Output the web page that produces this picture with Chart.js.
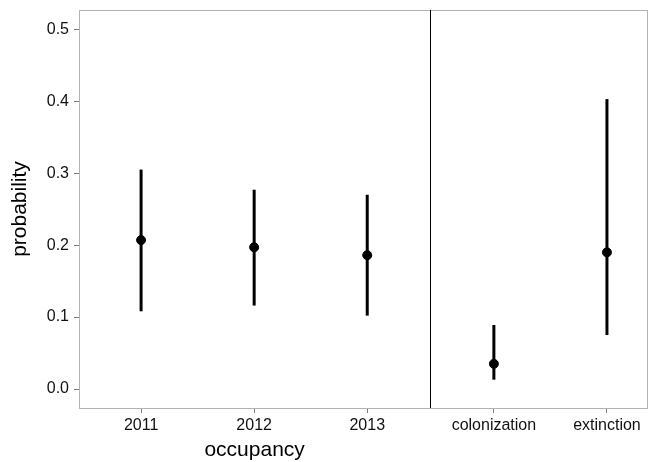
<!DOCTYPE html>
<html>
<head>
<meta charset="utf-8">
<script src="https://cdn.jsdelivr.net/npm/chart.js@4.4.1/dist/chart.umd.min.js"></script>
<style>
  body { margin: 0; background: #fff; }
  canvas { display: block; }
</style>
</head>
<body>
<canvas id="chart" width="649" height="462"></canvas>
<script>
// estimates and 95% intervals
const categories = ['2011', '2012', '2013', 'colonization', 'extinction'];
const estimates = [0.207, 0.197, 0.186, 0.035, 0.190];
const lowerCI = [0.108, 0.116, 0.102, 0.013, 0.075];
const upperCI = [0.305, 0.277, 0.270, 0.089, 0.403];
const yTicks = [0, 0.1, 0.2, 0.3, 0.4, 0.5];
const occupancyCount = 3; // first three categories belong to the occupancy panel

// layout: the second panel is shifted a little to the right
const panelGap = 0.12;
const xPos = categories.map((c, i) => i + (i >= occupancyCount ? panelGap : 0));
const dividerX = 2.557;

const errorBars = categories.map((c, i) => ({
  type: 'line',
  data: [{ x: xPos[i], y: lowerCI[i] }, { x: xPos[i], y: upperCI[i] }],
  borderColor: '#000',
  borderWidth: 3,
  borderCapStyle: 'butt',
  pointRadius: 0,
  pointHoverRadius: 0
}));

const panelPlugin = {
  id: 'panel',
  beforeDatasetsDraw(chart) {
    const { ctx, chartArea } = chart;
    const x = chart.scales.x.getPixelForValue(dividerX);
    ctx.save();
    ctx.strokeStyle = '#b3b3b3';
    ctx.lineWidth = 1;
    ctx.strokeRect(chartArea.left + 0.5, chartArea.top + 0.5,
      chartArea.right - chartArea.left - 1, chartArea.bottom - chartArea.top);
    ctx.strokeStyle = '#000';
    ctx.beginPath();
    ctx.moveTo(Math.round(x) + 0.5, chartArea.top);
    ctx.lineTo(Math.round(x) + 0.5, chartArea.bottom);
    ctx.stroke();
    ctx.restore();
  },
  afterDraw(chart) {
    const { ctx, chartArea } = chart;
    const x = chart.scales.x.getPixelForValue(dividerX);
    ctx.save();
    ctx.fillStyle = '#000';
    ctx.font = '21px "Liberation Sans", Arial, sans-serif';
    ctx.textAlign = 'center';
    ctx.textBaseline = 'alphabetic';
    ctx.fillText('occupancy', (chartArea.left + x) / 2, 456);
    ctx.restore();
  }
};

new Chart(document.getElementById('chart'), {
  type: 'scatter',
  data: {
    datasets: [
      ...errorBars,
      {
        type: 'scatter',
        data: categories.map((c, i) => ({ x: xPos[i], y: estimates[i] })),
        backgroundColor: '#000',
        borderColor: '#000',
        pointRadius: 4.5,
        pointHoverRadius: 4.5
      }
    ]
  },
  options: {
    responsive: false,
    animation: false,
    layout: { autoPadding: false, padding: { left: 0, right: 1, top: 10, bottom: 0 } },
    plugins: {
      legend: { display: false },
      tooltip: { enabled: false }
    },
    scales: {
      x: {
        type: 'linear',
        min: -0.549,
        max: 4.483,
        afterBuildTicks(scale) {
          scale.ticks = xPos.map(v => ({ value: v }));
        },
        afterFit(scale) {
          scale.height = 54;
          scale.paddingLeft = 0;
          scale.paddingRight = 0;
        },
        ticks: {
          autoSkip: false,
          maxRotation: 0,
          padding: 3,
          color: '#111',
          font: { family: '"Liberation Sans", Arial, sans-serif', size: 16 },
          callback(value) {
            const i = xPos.indexOf(value);
            return i >= 0 ? categories[i] : '';
          }
        },
        grid: {
          drawOnChartArea: false,
          drawTicks: true,
          tickLength: 5,
          color: '#7f7f7f'
        },
        border: { display: false }
      },
      y: {
        min: -0.0264,
        max: 0.5268,
        afterBuildTicks(scale) {
          scale.ticks = yTicks.map(v => ({ value: v }));
        },
        afterFit(scale) {
          scale.width = 79;
          scale.paddingTop = 0;
          scale.paddingBottom = 0;
        },
        title: {
          display: true,
          text: 'probability',
          color: '#000',
          font: { family: '"Liberation Sans", Arial, sans-serif', size: 21 },
          padding: { top: 8, bottom: 0 }
        },
        ticks: {
          padding: 5,
          color: '#111',
          font: { family: '"Liberation Sans", Arial, sans-serif', size: 16 },
          callback: v => v.toFixed(1)
        },
        grid: {
          drawOnChartArea: false,
          drawTicks: true,
          tickLength: 5,
          color: '#7f7f7f'
        },
        border: { display: false }
      }
    }
  },
  plugins: [panelPlugin]
});
</script>
</body>
</html>
